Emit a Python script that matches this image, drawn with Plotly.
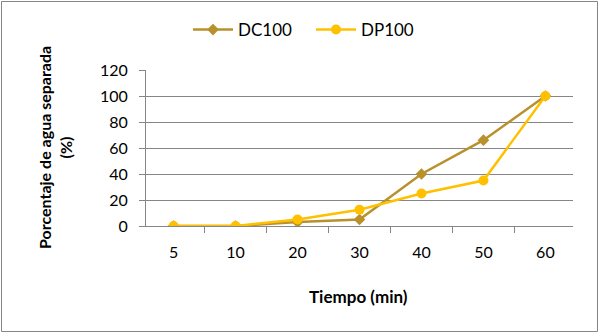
import plotly.graph_objects as go

categories = ["5", "10", "20", "30", "40", "50", "60"]
dc100 = [0, 0, 3, 5, 40, 66, 100]
dp100 = [0, 0, 5, 12.5, 25, 35, 100]

W, H = 599, 333
L, R, T, B = 146, 26, 70, 107
pw, ph = W - L - R, H - T - B

def px(x):
    return (x - L) / pw

def py(y):
    return (H - B - y) / ph

fig = go.Figure()
fig.add_trace(go.Scatter(x=categories, y=dc100, name="DC100", mode="lines+markers",
                         line=dict(color="#B8912C", width=2.5),
                         marker=dict(symbol="diamond", size=9, color="#B8912C")))
fig.add_trace(go.Scatter(x=categories, y=dp100, name="DP100", mode="lines+markers",
                         line=dict(color="#FFC000", width=2.5),
                         marker=dict(symbol="circle", size=10, color="#FFC000")))

fig.update_layout(
    width=W, height=H,
    margin=dict(l=L, r=R, t=T, b=B, autoexpand=False),
    paper_bgcolor="white", plot_bgcolor="white",
    font=dict(family="Lato, Open Sans, sans-serif", size=16, color="black"),
    legend=dict(orientation="h", x=px(188), y=py(30), xanchor="left", yanchor="middle",
                font=dict(size=17), itemwidth=40, entrywidth=68, entrywidthmode="pixels",
                bgcolor="rgba(0,0,0,0)"),
    xaxis=dict(type="category", tickson="boundaries", ticks="outside", ticklen=6,
               tickcolor="#868686", showline=True, linecolor="#868686", linewidth=1,
               showgrid=False, automargin=False, ticklabelstandoff=12),
    yaxis=dict(range=[0, 120], dtick=20, ticks="outside", ticklen=6, tickcolor="#868686",
               showline=True, linecolor="#868686", linewidth=1,
               gridcolor="#868686", gridwidth=1, zeroline=False, automargin=False,
               ticklabelstandoff=8),
    annotations=[
        dict(text="<b>Tiempo (min)</b>", xref="paper", yref="paper", x=px(358), y=py(296),
             showarrow=False, font=dict(size=17), xanchor="center", yanchor="middle"),
        dict(text="<b>Porcentaje de agua separada<br>(%)</b>", xref="paper", yref="paper",
             x=px(55), y=py(148), showarrow=False, textangle=-90, font=dict(size=16),
             xanchor="center", yanchor="middle"),
    ],
    shapes=[dict(type="rect", xref="paper", yref="paper",
                 x0=px(1.5), x1=px(W - 1.5), y0=py(1.5), y1=py(H - 1.5),
                 line=dict(color="#868686", width=1))],
)

fig.write_html("out.html", config={"displayModeBar": False},
               post_script="document.body.style.margin='0';document.body.style.padding='0';")
